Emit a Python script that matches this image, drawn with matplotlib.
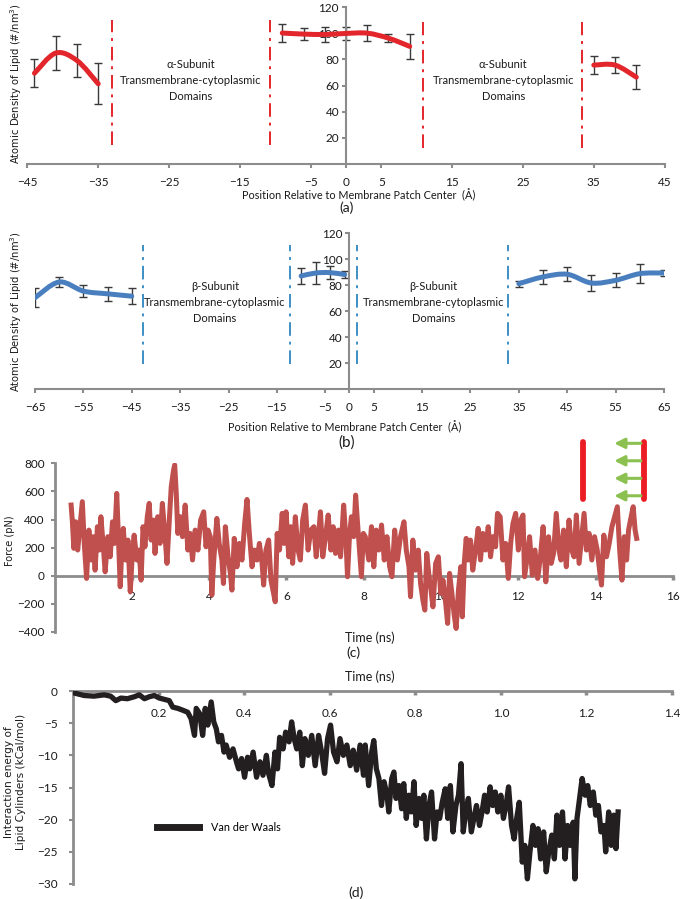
import numpy as np
import matplotlib
matplotlib.use("Agg")
import matplotlib.pyplot as plt
from matplotlib.path import Path
from matplotlib.patches import PathPatch

plt.rcParams['font.family'] = ['Lato', 'DejaVu Sans']

# ---------------- data ----------------
# panel (a): alpha subunit lipid density
a1_x = [-44, -41, -38, -35]
a1_y = [69.4, 84.8, 79.1, 61.3]
a1_e = [10.5, 12.7, 12.3, 15.7]
a2_x = [-9, -6, -3, 0, 3, 6, 9]
a2_y = [100.1, 99.3, 99.0, 99.8, 100.0, 96.2, 89.9]
a2_e = [7.0, 4.5, 5.4, 5.0, 6.0, 3.0, 9.6]
a3_x = [35, 38, 41]
a3_y = [75.6, 75.6, 66.4]
a3_e = [6.6, 6.4, 9.2]
a_walls = [-33.0, -10.7, 10.9, 33.4]
a_xticks = [-45, -35, -25, -15, -5, 0, 5, 15, 25, 35, 45]

# panel (b): beta subunit lipid density
b1_x = [-65, -60, -55, -50, -45]
b1_y = [70.5, 82.6, 75.6, 73.5, 71.7]
b1_e = [7.4, 3.6, 4.5, 5.5, 6.1]
b2_x = [-10, -7, -4, -1]
b2_y = [87.2, 89.5, 89.8, 88.3]
b2_e = [6.5, 8.3, 4.8, 2.8]
b3_x = [35, 40, 45, 50, 55, 60, 65]
b3_y = [81.3, 86.5, 88.5, 81.8, 83.9, 89.0, 89.5]
b3_e = [2.3, 5.2, 5.5, 6.5, 5.5, 7.5, 2.0]
b_walls = [-42.7, -12.2, 1.6, 32.8]
b_xticks = [-65, -55, -45, -35, -25, -15, -5, 0, 5, 15, 25, 35, 45, 55, 65]
dens_yticks = [20, 40, 60, 80, 100, 120]

# panel (c): force vs time
force_time = [0.43, 0.46, 0.50, 0.55, 0.60, 0.65, 0.72, 0.77, 0.83, 0.89, 0.95, 1.00, 1.05, 1.11, 1.16,
              1.20, 1.27, 1.31, 1.38, 1.44, 1.50, 1.55, 1.61, 1.65, 1.70, 1.74, 1.78, 1.84, 1.90, 1.96,
              2.02, 2.06, 2.13, 2.19, 2.24, 2.29, 2.34, 2.40, 2.45, 2.50, 2.56, 2.60, 2.67, 2.73, 2.79,
              2.86, 2.91, 2.97, 3.02, 3.08, 3.11, 3.15, 3.19, 3.25, 3.31, 3.38, 3.45, 3.51, 3.57, 3.64,
              3.71, 3.78, 3.86, 3.92, 3.97, 4.03, 4.07, 4.12, 4.20, 4.26, 4.33, 4.37, 4.42, 4.49, 4.55,
              4.59, 4.65, 4.72, 4.78, 4.85, 4.92, 4.98, 5.04, 5.11, 5.17, 5.24, 5.30, 5.37, 5.41, 5.47,
              5.54, 5.60, 5.65, 5.71, 5.76, 5.82, 5.89, 5.94, 5.99, 6.06, 6.11, 6.16, 6.23, 6.30, 6.36,
              6.42, 6.49, 6.56, 6.63, 6.71, 6.77, 6.84, 6.88, 6.94, 7.01, 7.08, 7.15, 7.21, 7.27, 7.34,
              7.40, 7.48, 7.54, 7.58, 7.63, 7.68, 7.74, 7.79, 7.84, 7.89, 7.94, 7.99,
              8.04, 8.13, 8.20, 8.26, 8.32, 8.39, 8.46, 8.53, 8.60, 8.67, 8.73, 8.80, 8.87, 8.95, 9.04,
              9.10, 9.17, 9.21, 9.27, 9.34, 9.41, 9.47, 9.53, 9.58, 9.63, 9.69, 9.74, 9.79, 9.86, 9.93,
              9.99, 10.05, 10.12, 10.17, 10.22, 10.29, 10.34, 10.39, 10.45, 10.51, 10.55, 10.60, 10.65,
              10.70, 10.76, 10.82, 10.89, 10.96, 11.02, 11.08, 11.15, 11.22, 11.28, 11.34, 11.41, 11.46,
              11.53, 11.60, 11.67, 11.74, 11.80, 11.86, 11.93, 12.00, 12.06, 12.12, 12.16, 12.23, 12.29,
              12.36, 12.43, 12.50, 12.57, 12.64, 12.71, 12.78, 12.85, 12.91, 12.98, 13.05, 13.10, 13.17,
              13.24, 13.31, 13.38, 13.44, 13.50, 13.57, 13.64, 13.70, 13.76, 13.83, 13.90, 13.97, 14.04,
              14.11, 14.15, 14.21, 14.28, 14.35, 14.42, 14.49, 14.56, 14.62, 14.68, 14.74, 14.80, 14.85,
              14.90, 14.97, 15.02, 15.06]
force_pN = [503, 396, 195, 384, 183, 325, 527, 230, -19, 325, 112, 278, 40, 349, 183,
            420, 183, 28, 278, 135, 384, 230, 586, 301, -78, 183, 337, 112, 254, -114,
            183, 289, 112, 183, -31, 349, 206, 420, 515, 254, 396, 159, 420, 230, 515,
            278, 88, 396, 633, 752, 788, 586, 301, 420, 278, 503, 183, 301, 112, 325,
            183, 396, 455, 206, 325, 278, -138, 112, 408, 230, 112, -55, 349, 135, 17,
            -102, 266, 64, 230, 112, 372, 543, 301, 64, 183, 112, 230, 88, -66, 183,
            254, -31, -102, -185, 301, 183, 444, 230, 455, 135, 349, 88, 420, 183, 112,
            396, 503, 183, 325, 349, 135, 325, 455, 135, 278, 432, 183, 349, 159, 325,
            135, 503, 254, -7, 278, 420, 278, 574, 372, 183, -7, 301,
            278, 112, 349, 64, 325, 183, 361, 112, 278, 64, -7, 325, 112, 278, 384,
            183, 64, -149, 254, 40, 183, -55, -173, -244, 159, -7, -102, -221, 88, 135,
            -126, -31, -197, -339, 17, -149, -280, -375, -102, 64, -292, 88, 266,
            112, 254, 40, 183, 337, 112, 301, 183, 349, 135, 278, 206, 444,
            420, 112, 230, -19, 230, 372, 444, 183, 396, 432, -7, 135, 278,
            5, 183, -19, 135, 349, -43, 278, 88, 159, 444, 183, 112, 325,
            64, 396, 183, 135, 432, 88, 278, 444, 183, 301, 112, 278, 183,
            17, -66, 289, 135, 230, 349, 420, 491, 183, -31, 278, 112, 325,
            396, 491, 325, 266]
force_yticks = [-400, -200, 0, 200, 400, 600, 800]
force_xticks = [2, 4, 6, 8, 10, 12, 14, 16]
# schematic: two membrane bars and pulling arrows
bar_x = [13.67, 15.26]
bar_y = [544, 954]
arrow_y = [942, 818, 693, 569]
arrow_x = [15.17, 14.48]

# panel (d): van der Waals interaction energy vs time
vdw_time = [0.002, 0.026, 0.049, 0.073, 0.088, 0.100, 0.112, 0.127, 0.143, 0.155, 0.167, 0.178, 0.190,
            0.202, 0.214, 0.225, 0.233, 0.245, 0.257, 0.268, 0.276, 0.284, 0.288, 0.296, 0.303, 0.309,
            0.315, 0.323, 0.329, 0.335, 0.340, 0.347, 0.353, 0.358, 0.366, 0.374, 0.382, 0.387, 0.394,
            0.401, 0.408, 0.413, 0.421, 0.429, 0.437, 0.444, 0.452, 0.457, 0.465, 0.472, 0.478, 0.483,
            0.491, 0.497, 0.505, 0.511, 0.517, 0.523, 0.530, 0.536, 0.542, 0.550, 0.558, 0.566, 0.574,
            0.581, 0.588, 0.595, 0.602, 0.609, 0.617, 0.624, 0.632, 0.640, 0.648, 0.655, 0.663, 0.671,
            0.679, 0.683, 0.691, 0.698, 0.703, 0.709, 0.715, 0.721, 0.727, 0.734, 0.738, 0.745, 0.750,
            0.755, 0.762, 0.768, 0.773, 0.779, 0.785, 0.791, 0.797, 0.802, 0.809, 0.815, 0.820, 0.826,
            0.832, 0.838, 0.845, 0.851, 0.857, 0.863, 0.870, 0.876, 0.882, 0.888, 0.895, 0.901, 0.907,
            0.912, 0.918, 0.924, 0.931, 0.937, 0.943, 0.950, 0.956, 0.962, 0.968, 0.975, 0.981, 0.987,
            0.993, 1.000, 1.006, 1.012, 1.018, 1.025, 1.031, 1.037, 1.043, 1.050, 1.056, 1.062, 1.068,
            1.075, 1.081, 1.087, 1.093, 1.100, 1.106, 1.112, 1.119, 1.125, 1.131, 1.137, 1.144, 1.150,
            1.156, 1.162, 1.169, 1.173, 1.178, 1.184, 1.190, 1.197, 1.203, 1.209, 1.216, 1.222, 1.228,
            1.234, 1.241, 1.245, 1.252, 1.258, 1.264, 1.269, 1.274]
vdw_kcal = [-0.3, -0.7, -0.8, -0.6, -0.8, -1.5, -1.1, -1.2, -0.9, -0.6, -1.2, -0.9, -0.7,
            -1.1, -1.3, -1.5, -2.5, -2.7, -3.0, -3.3, -4.3, -6.9, -2.7, -3.5, -6.9, -2.7,
            -5.3, -1.7, -4.8, -5.9, -7.9, -6.9, -9.5, -8.4, -10.3, -9.0, -11.0, -12.1, -10.5,
            -13.4, -10.3, -12.1, -9.5, -13.4, -11.0, -13.1, -10.0, -12.8, -14.7, -9.5, -12.1, -7.2,
            -9.0, -6.4, -7.9, -4.8, -7.4, -9.0, -6.4, -11.6, -7.4, -10.0, -6.9, -11.6, -6.9,
            -9.5, -12.8, -7.4, -5.3, -9.5, -11.0, -7.4, -10.0, -8.4, -11.6, -9.2, -12.3, -8.4,
            -13.1, -8.4, -14.7, -9.5, -7.7, -12.1, -13.6, -17.8, -14.1, -16.2, -18.8, -13.6, -12.6,
            -16.7, -14.7, -18.3, -14.4, -19.8, -16.2, -18.8, -14.1, -20.9, -16.7, -19.8, -16.2, -23.0,
            -17.8, -15.7, -23.0, -18.8, -19.8, -17.3, -15.2, -19.8, -14.7, -21.9, -17.8, -16.2, -11.3,
            -21.9, -18.8, -16.7, -21.9, -19.8, -17.8, -20.9, -18.8, -16.2, -18.8, -14.9, -17.8, -15.7,
            -18.8, -16.2, -19.8, -17.8, -14.9, -20.9, -23.0, -19.8, -17.3, -26.6, -24.0, -29.2, -25.0,
            -20.9, -24.0, -21.4, -26.1, -21.9, -28.1, -25.0, -22.4, -26.1, -19.3, -24.0, -18.8, -26.1,
            -20.9, -24.0, -20.4, -29.2, -19.8, -16.7, -13.6, -16.2, -14.7, -17.8, -15.7, -19.3, -17.8,
            -21.9, -20.9, -25.0, -18.8, -24.0, -19.3, -24.5, -18.8]
vdw_yticks = [0, -5, -10, -15, -20, -25, -30]
vdw_xticks = [0.2, 0.4, 0.6, 0.8, 1.0, 1.2, 1.4]

# ---------------- styling ----------------
W, H = 682, 899
fig = plt.figure(figsize=(W / 100, H / 100), dpi=100)
AX_GRAY = '#8c8c8c'
TXT = '#1a1a1a'
TICK_FS = 8.5
XLAB_FS = 7.8
PANEL_FS = 8


def rect(x0, x1, ytop, ybot):
    return [x0 / W, 1 - ybot / H, (x1 - x0) / W, (ybot - ytop) / H]


def ftext(x, y, s, **kw):
    fig.text(x / W, 1 - y / H, s, ha='center', va='center', color=TXT, **kw)


def smooth_line(ax, x, y, **kw):
    x = np.asarray(x, float)
    y = np.asarray(y, float)
    n = len(x)
    verts = [(x[0], y[0])]
    codes = [Path.MOVETO]
    for i in range(n - 1):
        p0 = np.array([x[max(i - 1, 0)], y[max(i - 1, 0)]])
        p1 = np.array([x[i], y[i]])
        p2 = np.array([x[i + 1], y[i + 1]])
        p3 = np.array([x[min(i + 2, n - 1)], y[min(i + 2, n - 1)]])
        c1 = p1 + (p2 - p0) / 6.0
        c2 = p2 - (p3 - p1) / 6.0
        verts += [tuple(c1), tuple(c2), tuple(p2)]
        codes += [Path.CURVE4] * 3
    ax.add_patch(PathPatch(Path(verts, codes), fill=False, capstyle='round', **kw))


def density_axes(r, xlim, xticks, color, wall_color, segs, walls, wall_span, labels, sub):
    ax = fig.add_axes(r)
    ax.set_xlim(*xlim)
    ax.set_ylim(0, 120)
    for s in ['top', 'right']:
        ax.spines[s].set_visible(False)
    ax.spines['left'].set_position(('data', 0))
    for s in ['left', 'bottom']:
        ax.spines[s].set_color(AX_GRAY)
        ax.spines[s].set_linewidth(1.5)
    ax.set_xticks(xticks)
    ax.set_yticks(dens_yticks)
    ax.tick_params(axis='x', colors=AX_GRAY, length=3, width=1.5, direction='out', pad=6,
                   labelcolor=TXT, labelsize=TICK_FS)
    ax.tick_params(axis='y', colors=AX_GRAY, length=3, width=1.5, direction='out', pad=2,
                   labelcolor=TXT, labelsize=TICK_FS)
    ax.patch.set_visible(False)
    for (sx, sy, se) in segs:
        ax.errorbar(sx, sy, yerr=se, fmt='none', ecolor='#3a3a3a', elinewidth=1.0,
                    capsize=3, capthick=1.0, zorder=2)
        smooth_line(ax, sx, sy, edgecolor=color, linewidth=3.6, zorder=3)
    for wx, (lo, hi) in zip(walls, wall_span):
        ax.plot([wx, wx], [lo, hi], color=wall_color, linewidth=1.4,
                linestyle=(0, (7, 3, 1.5, 3)), zorder=1)
    for (tx, ty) in labels:
        ax.text(tx, ty, sub + '\nTransmembrane-cytoplasmic\nDomains', ha='center', va='center',
                fontsize=PANEL_FS, color=TXT, linespacing=1.55)
    return ax


# panel (a)
RED_A = '#e3262b'
ax_a = density_axes(rect(27.4, 664.6, 7, 164), (-45, 45), a_xticks, RED_A, RED_A,
                    [(a1_x, a1_y, a1_e), (a2_x, a2_y, a2_e), (a3_x, a3_y, a3_e)],
                    a_walls, [(14.5, 110.3), (14.5, 110.3), (12.5, 108.2), (12.5, 108.2)],
                    [(-21.9, 64), (22.2, 64)], '\u03b1-Subunit')
fig.text(16 / W, 1 - 84 / H, 'Atomic Density of Lipid (#/nm$^3$)', rotation=90, ha='center',
         va='center', fontsize=7.2, family='DejaVu Sans', color=TXT)
ftext(359, 195, 'Position Relative to Membrane Patch Center  (\u00c5)', fontsize=XLAB_FS)
ftext(347, 208, '(a)', fontsize=10)

# panel (b)
ax_b = density_axes(rect(35, 664, 233.3, 389.5), (-65, 65), b_xticks, '#4a7fbf', '#3d8fc4',
                    [(b1_x, b1_y, b1_e), (b2_x, b2_y, b2_e), (b3_x, b3_y, b3_e)],
                    b_walls, [(19.4, 111)] * 4,
                    [(-27.8, 67.1), (17.4, 67.1)], '\u03b2-Subunit')
fig.text(16 / W, 1 - 312 / H, 'Atomic Density of Lipid (#/nm$^3$)', rotation=90, ha='center',
         va='center', fontsize=7.2, family='DejaVu Sans', color=TXT)
ftext(345, 427, 'Position Relative to Membrane Patch Center  (\u00c5)', fontsize=XLAB_FS)
ftext(347, 443, '(b)', fontsize=11)

# panel (c)
ax_c = fig.add_axes(rect(54.5, 673, 463.3, 632))
ax_c.patch.set_visible(False)
ax_c.plot(force_time, force_pN, color='#c0504d', linewidth=3.6, solid_joinstyle='round', zorder=3)
ax_c.set_xlim(0, 16)
ax_c.set_ylim(-400, 800)
for s in ['top', 'right']:
    ax_c.spines[s].set_visible(False)
ax_c.spines['bottom'].set_position(('data', 0))
for s in ['left', 'bottom']:
    ax_c.spines[s].set_color(AX_GRAY)
    ax_c.spines[s].set_linewidth(2)
ax_c.set_xticks(force_xticks)
ax_c.set_yticks(force_yticks)
ax_c.tick_params(axis='x', colors=AX_GRAY, length=3, width=2.5, direction='out', pad=8,
                 labelcolor=TXT, labelsize=TICK_FS)
ax_c.tick_params(axis='y', colors=AX_GRAY, length=3, width=1.5, direction='out', pad=4,
                 labelcolor=TXT, labelsize=TICK_FS)
for bx in bar_x:
    ax_c.plot([bx, bx], bar_y, color='#ec1c24', linewidth=4.2, solid_capstyle='round',
              clip_on=False, zorder=4)
for ay in arrow_y:
    ax_c.annotate('', xy=(arrow_x[1], ay), xytext=(arrow_x[0], ay),
                  arrowprops=dict(arrowstyle='-|>,head_length=0.6,head_width=0.3',
                                  color='#8cc152', lw=2.2, shrinkA=0, shrinkB=0),
                  annotation_clip=False, zorder=4)
fig.text(10 / W, 1 - 541 / H, 'Force (pN)', rotation=90, ha='center', va='center',
         fontsize=7, family='DejaVu Sans', color=TXT)
ftext(370, 638, 'Time (ns)', fontsize=9)
ftext(353, 653, '(c)', fontsize=10)

# panel (d)
ax_d = fig.add_axes(rect(73, 672, 691, 884))
ax_d.patch.set_visible(False)
ax_d.plot(vdw_time, vdw_kcal, color='#231f20', linewidth=3.8, solid_joinstyle='round', zorder=3,
          label='Van der Waals')
ax_d.set_xlim(0, 1.4)
ax_d.set_ylim(-30, 0)
for s in ['top', 'right']:
    ax_d.spines[s].set_visible(False)
ax_d.spines['bottom'].set_position(('data', 0))
for s in ['left', 'bottom']:
    ax_d.spines[s].set_color(AX_GRAY)
    ax_d.spines[s].set_linewidth(2)
ax_d.set_xticks(vdw_xticks)
ax_d.set_xticklabels(['0.2', '0.4', '0.6', '0.8', '1.0', '1.2', '1.4'])
ax_d.set_yticks(vdw_yticks)
ax_d.tick_params(axis='x', colors=AX_GRAY, length=3, width=2.5, direction='out', pad=9,
                 labelcolor=TXT, labelsize=TICK_FS)
ax_d.tick_params(axis='y', colors=AX_GRAY, length=3, width=1.5, direction='out', pad=8,
                 labelcolor=TXT, labelsize=TICK_FS)
leg = ax_d.legend(loc='center left', bbox_to_anchor=(0.14, 0.2917), frameon=False,
                  handlelength=3.9, handletextpad=1.1, borderpad=0, borderaxespad=0,
                  fontsize=7.8)
for h in leg.legend_handles:
    h.set_linewidth(5)
fig.text(15 / W, 1 - 782 / H, 'Interaction energy of\nLipid Cylinders (kCal/mol)', rotation=90,
         ha='center', va='center', fontsize=7.6, family='DejaVu Sans', color=TXT, linespacing=1.2)
ftext(370, 677, 'Time (ns)', fontsize=9)
ftext(356, 893, '(d)', fontsize=10)

fig.savefig('out.png', dpi=100)
